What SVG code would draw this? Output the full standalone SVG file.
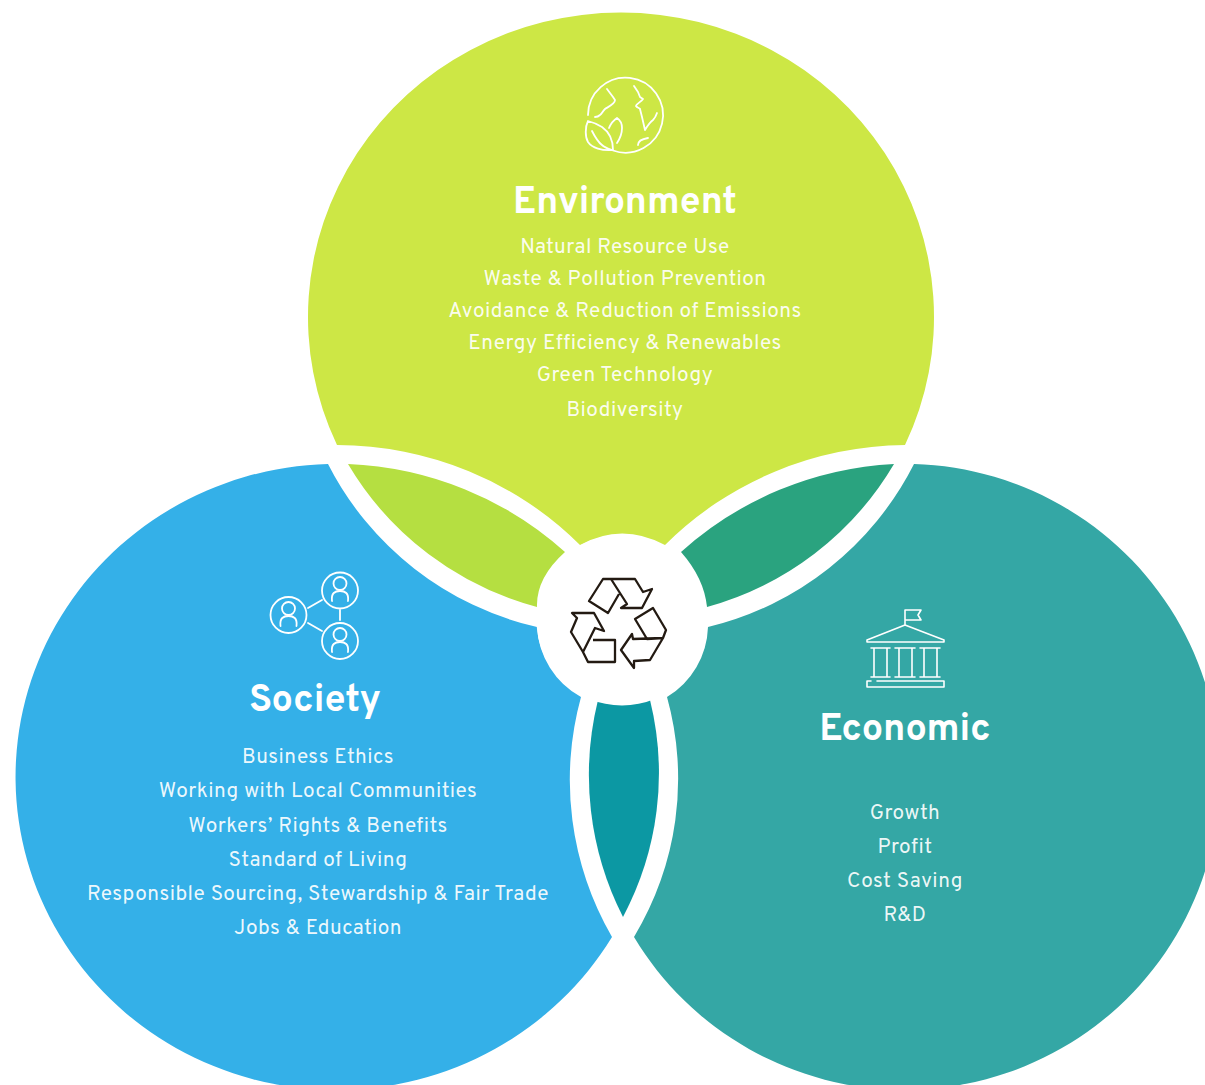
<svg xmlns="http://www.w3.org/2000/svg" width="1205" height="1085" viewBox="0 0 1205 1085">
<style>
.t{font-family:"Overpass","Noto Sans","Liberation Sans",sans-serif;fill:#fff;text-anchor:middle}
.h{font-size:37.800px;font-weight:700}
.b{font-size:20.800px;letter-spacing:.5px;fill-opacity:.93}
.w{fill:none;stroke:#fff;stroke-width:1.800;stroke-linecap:round;stroke-linejoin:round}
.k{fill:none;stroke:#231a12;stroke-width:2.300;stroke-linejoin:round}
</style>
<rect width="1205" height="1085" fill="#fff"/>
<g id="connectors">
<path d="M348 464A340 330 0 0 1 565 552Q536 578 537 607A313 313 0 0 1 348 464Z" fill="#b5df41"/>
<path d="M894 464A340 330 0 0 0 681 552Q704 578 707 607A313 313 0 0 0 894 464Z" fill="#2aa37f"/>
<path d="M623 917A313 313 0 0 1 598 700L650 700A321.500 313 0 0 1 623 917Z" fill="#0c98a3"/>
</g>
<g id="environment">
<path d="M337 445A313 304.500 0 1 1 905 445A340 330 0 0 0 665 545Q622 522 580 545A340 330 0 0 0 337 445Z" fill="#cde745"/>
<g class="w"><path d="M588 115A37.500 37.500 0 1 1 613 150.500"/><path d="M607 89L613 97 615 100C615 104 608 107 605 109 602 112 602 114 600 115 598 117 596 117 595 117M634 86L638 92 640 97 643 99C641 102 636 104 636 106 637 108 640 108 640 109L642 117 645 130C648 125 650 122 653 120 655 118 656 116 657 113M638 145C638 141 642 139 648 138"/><path d="M588 121C585 127 585 137 588 142 592 148 602 151 613 150 613 144 612 134 602 127 597 124 592 122 588 121ZM592 131C595 137 598 142 602 145 605 148 609 149 612 150M609 128C611 123 614 120 617 118 620 120 622 124 622 128 622 134 619 140 617 143"/></g>
<text class="t h" style="font-size:37.300px" x="625" y="213">Environment</text>
<text class="t b" x="625" y="253">Natural Resource Use</text>
<text class="t b" x="625" y="285">Waste &amp; Pollution Prevention</text>
<text class="t b" x="625" y="317">Avoidance &amp; Reduction of Emissions</text>
<text class="t b" x="625" y="349">Energy Efficiency &amp; Renewables</text>
<text class="t b" x="625" y="381">Green Technology</text>
<text class="t b" x="625" y="416">Biodiversity</text>
</g>
<g id="society">
<path d="M328 464A320.800 313 0 1 0 612 937A313 313 0 0 1 581 697A85 85 0 0 1 537 627A313 313 0 0 1 328 464Z" fill="#34b0e8"/>
<g class="w"><circle cx="340" cy="590.500" r="18"/><circle cx="288.500" cy="615" r="18"/><circle cx="340" cy="641" r="18"/><path d="M308 608L322 600M308 623L322 631M340 610V620"/>
<circle cx="340" cy="583.500" r="6.500"/><path d="M332 601C331 593 335 591 340 591 345 591 349 593 348 601"/><circle cx="288.500" cy="608.500" r="6.500"/><path d="M280.500 626C279.500 618 283.500 616 288.500 616 293.500 616 297.500 618 296.500 626"/><circle cx="340" cy="634.500" r="6.500"/><path d="M332 652C331 644 335 642 340 642 345 642 349 644 348 652"/></g>
<text class="t h" x="315" y="711">Society</text>
<text class="t b" x="318" y="763">Business Ethics</text>
<text class="t b" x="318" y="797">Working with Local Communities</text>
<text class="t b" x="318" y="832">Workers’ Rights &amp; Benefits</text>
<text class="t b" x="318" y="866">Standard of Living</text>
<text class="t b" x="318" y="900">Responsible Sourcing, Stewardship &amp; Fair Trade</text>
<text class="t b" x="318" y="934">Jobs &amp; Education</text>
</g>
<g id="economic">
<path d="M914 464A315 313 0 1 1 634 937A321.500 313 0 0 0 667 697A85 85 0 0 0 708 627A313 313 0 0 0 914 464Z" fill="#34a7a5"/>
<path class="w" style="stroke-width:1.600" d="M905 625V610H921L918 615 921 620H905M905 625L867 640V642H944V640ZM871 648H890M874 648V677M887 648V677M871 677H890M895 648H915M899 648V677M912 648V677M895 677H915M920 648H940M924 648V677M937 648V677M920 677H940M871 681H867V687H944V681H877"/>
<text class="t h" x="905" y="740">Economic</text>
<text class="t b" x="905" y="819">Growth</text>
<text class="t b" x="905" y="853">Profit</text>
<text class="t b" x="905" y="887">Cost Saving</text>
<text class="t b" x="905" y="921">R&amp;D</text>
</g>
<g id="center">
<circle cx="622" cy="620" r="85.500" fill="#fff"/>
<g class="k"><path d="M611 579H635L643 592 652 589 642 608H621L627 604ZM611 579H603L589 601 608 613 619 594"/><path d="M653 608L635 619 647 639 663 638 666 630ZM663 638L650 660 634 661V668L621 650 632 634 633 639Z"/><path d="M572 613L594 613 604 631 595 628 583 652 571 632 577 618ZM583 652L588 662H615V640H593"/></g>
</g>
</svg>
